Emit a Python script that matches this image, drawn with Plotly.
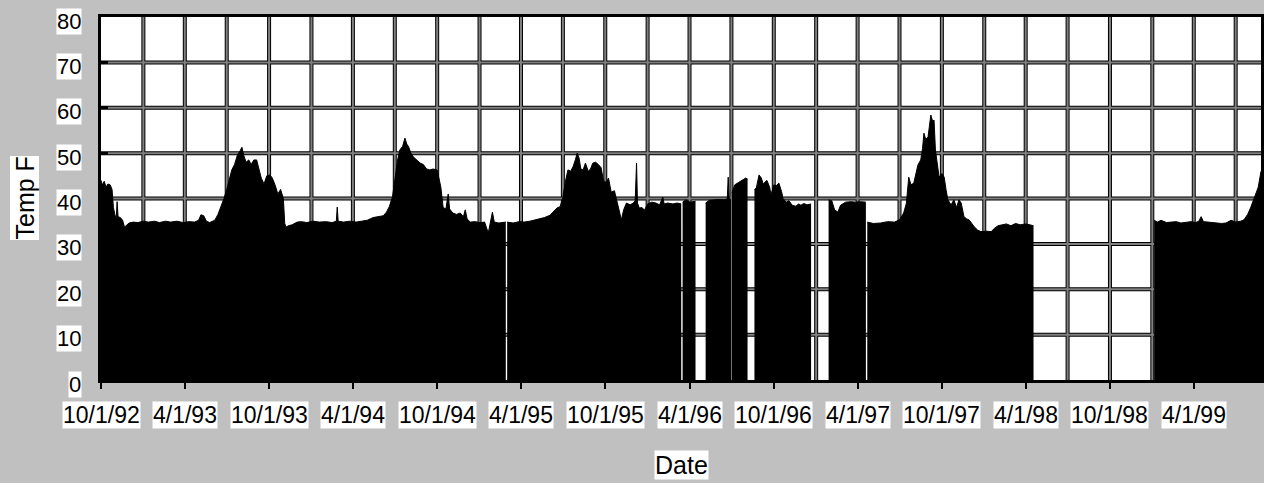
import plotly.graph_objects as go
import pandas as pd

# ---- data; None marks a gap in the record ----
dates = [
    "1992-10-01","1992-10-04","1992-10-08","1992-10-12","1992-10-16","1992-10-21","1992-10-25","1992-10-28",
    "1992-10-31","1992-11-03","1992-11-05","1992-11-07","1992-11-12","1992-11-17","1992-11-21","1992-11-25",
    "1992-12-01","1992-12-10","1992-12-20","1993-01-01","1993-01-12","1993-01-25","1993-02-05","1993-02-18",
    "1993-03-01","1993-03-15","1993-03-28","1993-04-10","1993-04-22","1993-05-01","1993-05-06","1993-05-12",
    "1993-05-18","1993-05-25","1993-06-05","1993-06-12","1993-06-18","1993-06-25","1993-07-01","1993-07-07",
    "1993-07-12","1993-07-18","1993-07-24","1993-07-30","1993-08-03","1993-08-07","1993-08-12","1993-08-18",
    "1993-08-23","1993-08-29","1993-09-04","1993-09-09","1993-09-14","1993-09-20","1993-09-26","1993-10-03",
    "1993-10-08","1993-10-14","1993-10-20","1993-10-26","1993-11-01","1993-11-04","1993-11-07","1993-11-12",
    "1993-11-20","1993-12-01","1993-12-10","1993-12-22","1994-01-05","1994-01-18","1994-02-01","1994-02-15",
    "1994-02-24","1994-02-26","1994-02-28","1994-03-12","1994-03-25","1994-04-08","1994-04-20","1994-05-02",
    "1994-05-15","1994-05-28","1994-06-06","1994-06-13","1994-06-19","1994-06-26","1994-07-01","1994-07-07",
    "1994-07-12","1994-07-18","1994-07-23","1994-07-27","1994-07-31","1994-08-05","1994-08-10","1994-08-17",
    "1994-08-25","1994-09-01","1994-09-08","1994-09-15","1994-09-22","1994-10-01","1994-10-05","1994-10-09",
    "1994-10-14","1994-10-20","1994-10-25","1994-10-28","1994-11-04","1994-11-12","1994-11-20","1994-11-27",
    "1994-12-01","1994-12-05","1994-12-12","1994-12-22","1995-01-02","1995-01-12","1995-01-20","1995-01-24",
    "1995-01-29","1995-02-02","1995-02-12","1995-02-27",
    "1995-02-28",
    "1995-03-02","1995-03-15","1995-03-28","1995-04-08","1995-04-20","1995-05-01","1995-05-12","1995-05-22",
    "1995-06-03","1995-06-12","1995-06-18","1995-06-25","1995-07-01","1995-07-06","1995-07-12","1995-07-18",
    "1995-07-23","1995-07-28","1995-08-01","1995-08-05","1995-08-09","1995-08-14","1995-08-19","1995-08-25",
    "1995-08-30","1995-09-04","1995-09-10","1995-09-16","1995-09-22","1995-09-27","1995-10-03","1995-10-08",
    "1995-10-14","1995-10-21","1995-10-30","1995-11-05","1995-11-10","1995-11-16","1995-11-24","1995-12-01",
    "1995-12-05","1995-12-08","1995-12-10","1995-12-14","1995-12-20","1995-12-25","1996-01-01","1996-01-10",
    "1996-01-19","1996-01-27","1996-02-03","1996-02-06","1996-02-14","1996-02-25","1996-03-05","1996-03-14",
    "1996-03-16",
    "1996-03-17","1996-03-24","1996-04-02","1996-04-14",
    "1996-04-25",
    "1996-05-06","1996-05-14","1996-05-25","1996-06-05","1996-06-15","1996-06-22","1996-06-24","1996-06-26",
    "1996-06-30",
    "1996-07-01",
    "1996-07-02","1996-07-08","1996-07-16","1996-07-25","1996-08-01","1996-08-05",
    "1996-08-12",
    "1996-08-20","1996-08-24","1996-08-30","1996-09-04","1996-09-08","1996-09-16","1996-09-22","1996-09-25",
    "1996-10-01","1996-10-06","1996-10-12","1996-10-18","1996-10-21","1996-10-28","1996-11-03","1996-11-10",
    "1996-11-18","1996-11-24","1996-11-29","1996-12-05","1996-12-12","1996-12-21",
    "1997-01-10",
    "1997-01-28","1997-02-04","1997-02-10","1997-02-17","1997-02-23","1997-03-06","1997-03-18","1997-03-28",
    "1997-04-08","1997-04-19",
    "1997-04-20",
    "1997-04-22","1997-05-05","1997-05-21","1997-06-05","1997-06-20","1997-07-01","1997-07-10","1997-07-16",
    "1997-07-21","1997-07-26","1997-08-01","1997-08-06","1997-08-10","1997-08-16","1997-08-20","1997-08-23",
    "1997-08-27","1997-09-01","1997-09-04","1997-09-07","1997-09-11","1997-09-14","1997-09-17","1997-09-21",
    "1997-09-25","1997-10-01","1997-10-06","1997-10-10","1997-10-14","1997-10-21","1997-10-27","1997-11-02",
    "1997-11-07","1997-11-12","1997-11-18","1997-11-24","1997-11-29","1997-12-05","1997-12-10","1997-12-18",
    "1997-12-25","1998-01-05","1998-01-16","1998-01-24","1998-01-31","1998-02-09","1998-02-18","1998-02-28",
    "1998-03-10","1998-03-20","1998-04-01","1998-04-10","1998-04-18",
    "1998-08-15",
    "1999-01-05","1999-01-12","1999-01-20","1999-02-01","1999-02-11","1999-02-22","1999-03-04","1999-03-15",
    "1999-03-26","1999-04-05","1999-04-12","1999-04-17","1999-04-22","1999-05-02","1999-05-15","1999-05-31",
    "1999-06-10","1999-06-21","1999-07-01","1999-07-12","1999-07-19","1999-07-27","1999-08-03","1999-08-12",
    "1999-08-19","1999-08-25",
]
temps = [
    44.0, 43.0, 43.8, 42.5, 43.2, 43.0, 42.0, 38.0,
    36.5, 35.5, 39.3, 36.0, 35.8, 35.2, 33.7, 34.0,
    34.6, 34.8, 34.7, 35.0, 34.8, 35.0, 34.7, 35.0,
    34.8, 35.0, 34.7, 34.9, 34.8, 35.2, 36.4, 36.2,
    35.0, 34.7, 35.2, 36.5, 38.0, 40.0, 42.0, 44.5,
    46.3, 47.5, 49.5, 50.5, 51.3, 49.5, 48.0, 48.5,
    47.5, 48.5, 48.5, 46.5, 44.5, 43.2, 45.0, 45.2,
    44.5, 43.0, 41.0, 42.0, 40.0, 34.5, 33.7, 34.0,
    34.2, 34.8, 34.9, 34.7, 35.0, 34.8, 34.9, 34.7,
    35.0, 38.1, 35.0, 34.8, 35.0, 34.8, 35.0, 35.2,
    35.8, 36.0, 36.2, 37.0, 38.2, 40.4, 44.0, 48.5,
    50.7, 51.5, 53.3, 52.0, 51.4, 50.0, 49.2, 48.5,
    47.8, 47.5, 46.5, 46.3, 46.5, 46.3, 44.0, 42.5,
    38.0, 37.7, 41.0, 37.7, 36.8, 36.5, 36.8, 36.0,
    37.5, 35.5, 34.8, 34.9, 34.7, 34.8, 32.4, 34.6,
    37.0, 34.8, 34.6, 34.8,
    None,
    34.8, 34.6, 34.9, 34.8, 35.0, 35.3, 35.5, 35.8,
    36.3, 37.2, 37.9, 38.2, 40.3, 43.5, 46.3, 46.0,
    47.0, 48.5, 50.0, 49.0, 46.5, 46.3, 47.8, 46.0,
    46.5, 47.8, 48.0, 47.5, 46.8, 44.0, 43.5, 44.5,
    41.4, 41.7, 38.1, 35.3, 37.5, 39.0, 38.6, 39.0,
    39.5, 47.8, 39.0, 37.9, 38.0, 37.4, 38.8, 39.2,
    39.0, 38.6, 40.3, 38.8, 39.0, 38.8, 39.0, 38.8,
    None,
    39.2, 39.7, 39.2, 39.4,
    None,
    39.0, 39.6, 39.7, 39.8, 39.7, 39.9, 44.7, 40.0,
    39.8,
    None,
    41.2, 43.0, 43.5, 44.0, 44.5, 44.3,
    None,
    42.0, 42.3, 45.2, 44.5, 43.2, 44.0, 42.5, 40.8,
    43.0, 42.8, 43.4, 41.5, 40.0, 39.2, 39.5, 38.5,
    38.3, 38.8, 38.5, 38.9, 38.6, 38.8,
    None,
    39.7, 39.5, 37.5, 37.0, 38.5, 39.2, 39.3, 39.2,
    39.3, 39.2,
    None,
    34.8, 34.5, 34.6, 34.9, 34.8, 35.3, 36.8, 39.0,
    44.7, 43.0, 43.4, 45.5, 47.4, 48.5, 51.0, 54.4,
    53.0, 53.6, 56.0, 58.4, 57.0, 57.3, 50.7, 47.0,
    44.7, 45.5, 44.7, 42.0, 39.7, 38.6, 39.7, 38.0,
    39.7, 39.0, 36.0, 35.5, 35.3, 34.5, 33.8, 33.0,
    32.7, 32.8, 32.7, 33.5, 34.0, 34.2, 34.4, 34.0,
    34.5, 34.2, 34.4, 34.2, 34.0,
    None,
    35.2, 34.8, 35.2, 34.7, 34.8, 34.9, 34.6, 34.8,
    34.9, 34.7, 35.0, 36.0, 34.9, 34.8, 34.7, 34.5,
    34.6, 35.2, 34.8, 35.0, 35.3, 36.5, 38.1, 40.5,
    42.5, 46.0,
]

tick_dates = ["1992-10-01","1993-04-01","1993-10-01","1994-04-01","1994-10-01","1995-04-01","1995-10-01",
              "1996-04-01","1996-10-01","1997-04-01","1997-10-01","1998-04-01","1998-10-01","1999-04-01"]
tick_labels = ["10/1/92","4/1/93","10/1/93","4/1/94","10/1/94","4/1/95","10/1/95",
               "4/1/96","10/1/96","4/1/97","10/1/97","4/1/98","10/1/98","4/1/99"]
y_ticks = [0, 10, 20, 30, 40, 50, 60, 70, 80]

x_start, x_end = "1992-10-01", "1999-08-25"
grid_dates = [d.strftime("%Y-%m-%d") for d in pd.date_range("1993-01-01", "1999-07-01", freq="3MS")]
grid_y = [10, 20, 30, 40, 50, 60, 70]

FONT = "Liberation Sans, Arial, sans-serif"

# split the record into continuous segments at the gaps (None)
segments, cur_x, cur_y = [], [], []
for d, t in zip(dates, temps):
    if t is None:
        if cur_x:
            segments.append((cur_x, cur_y))
        cur_x, cur_y = [], []
    else:
        cur_x.append(d)
        cur_y.append(t)
if cur_x:
    segments.append((cur_x, cur_y))

fig = go.Figure()
for sx, sy in segments:
    fig.add_trace(go.Scatter(
        x=sx, y=sy, mode="lines", fill="tozeroy",
        line=dict(color="black", width=1), fillcolor="black",
        hoverinfo="x+y", showlegend=False,
    ))

shapes = []
for col, w in (("black", 4), ("#808080", 2)):
    for d in grid_dates:
        shapes.append(dict(type="line", xref="x", yref="paper", x0=d, x1=d, y0=0, y1=1,
                           line=dict(color=col, width=w), layer="below"))
    for v in grid_y:
        shapes.append(dict(type="line", xref="paper", yref="y", x0=0, x1=1, y0=v, y1=v,
                           line=dict(color=col, width=w), layer="below"))

annotations = []
for d, lab in zip(tick_dates, tick_labels):
    annotations.append(dict(x=d, xref="x", y=0, yref="paper", yanchor="top", yshift=-21,
                            text=lab, showarrow=False, bgcolor="white", borderpad=0,
                            font=dict(family=FONT, size=23, color="black")))
for v in y_ticks:
    annotations.append(dict(x=0, xref="paper", xanchor="right", xshift=-19, y=v, yref="y",
                            yshift=-4, text=str(v), showarrow=False, bgcolor="white", borderpad=0,
                            font=dict(family=FONT, size=22, color="black")))
annotations.append(dict(x=0.5, xref="paper", y=0, yref="paper", yanchor="middle", yshift=-85,
                        text="Date", showarrow=False, bgcolor="white", borderpad=0,
                        font=dict(family=FONT, size=25, color="black")))
annotations.append(dict(x=0, xref="paper", xshift=-92, y=0.5, yref="paper", textangle=-90,
                        text="Temp F", showarrow=False, bgcolor="white", borderpad=0,
                        font=dict(family=FONT, size=25, color="black")))

fig.update_layout(
    width=1264, height=483,
    margin=dict(l=101, r=0, t=17, b=103),
    paper_bgcolor="#C0C0C0", plot_bgcolor="white",
    shapes=shapes, annotations=annotations,
    xaxis=dict(type="date", range=[x_start, x_end], showgrid=False, zeroline=False,
               showline=True, linecolor="black", linewidth=3, mirror=True,
               ticks="outside", tick0="1992-10-01", dtick="M6", ticklen=6, tickwidth=2,
               tickcolor="black", showticklabels=False),
    yaxis=dict(range=[0, 80], showgrid=False, zeroline=False,
               showline=True, linecolor="black", linewidth=3, mirror=True,
               ticks="inside", dtick=10, ticklen=7, tickwidth=3, tickcolor="black",
               showticklabels=False),
)

fig.write_html("out.html", config={"displayModeBar": False},
               post_script="document.body.style.margin='0';")
